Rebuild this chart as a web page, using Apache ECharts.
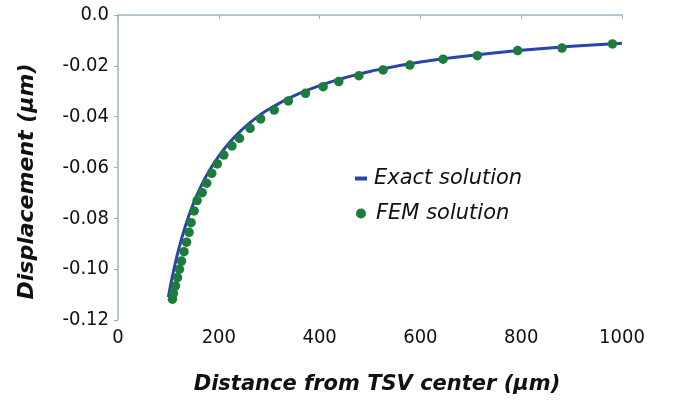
<!DOCTYPE html>
<html>
<head>
<meta charset="utf-8">
<script src="https://cdn.jsdelivr.net/npm/echarts@6/dist/echarts.min.js"></script>
<style>
html,body{margin:0;padding:0;background:#fff;}
#chart{width:673px;height:405px;}
</style>
</head>
<body>
<div id="chart"></div>
<script>
// Exact solution
const exactX = [100,105,110,115,120,130,140,150,160,170,180,200,220,240,260,280,300,350,400,450,500,600,700,800,900,1000];
const exactY = [-0.1110,-0.1057,-0.1009,-0.0965,-0.0925,-0.0854,-0.0793,-0.0740,-0.0694,-0.0653,-0.0617,-0.0555,-0.0505,-0.0463,-0.0427,-0.0396,-0.0370,-0.0317,-0.0278,-0.0247,-0.0222,-0.0185,-0.0159,-0.0139,-0.0123,-0.0111];
// FEM solution
const femX = [108,110,114,118,122,126,131,136,141,145,151,157,167,176,186,197,210,226,241,262,283,310,338,372,407,438,478,526,579,645,713,793,881,981];
const femY = [-0.1118,-0.1095,-0.1066,-0.1033,-0.1000,-0.0968,-0.0931,-0.0894,-0.0855,-0.0817,-0.0771,-0.0730,-0.0699,-0.0662,-0.0623,-0.0586,-0.0551,-0.0515,-0.0485,-0.0446,-0.0409,-0.0374,-0.0338,-0.0308,-0.0282,-0.0262,-0.0239,-0.0216,-0.0197,-0.0174,-0.0160,-0.0140,-0.0130,-0.0114];
const xTicks = [0,200,400,600,800,1000];
const yTicks = [-0.12,-0.10,-0.08,-0.06,-0.04,-0.02,0.0];

const font = 'DejaVu Sans';
const tickFont = '"DejaVu Sans Condensed", "DejaVu Sans"';
const axisColor = '#9fb2c4';
const chart = echarts.init(document.getElementById('chart'), null, {renderer:'canvas'});
chart.setOption({
  animation:false,
  backgroundColor:'#fff',
  grid:{left:118,right:51,top:15,bottom:85,containLabel:false},
  xAxis:{
    type:'value',min:xTicks[0],max:xTicks[xTicks.length-1],interval:200,
    name:'Distance from TSV center (μm)',nameLocation:'middle',nameGap:54,
    nameTextStyle:{fontFamily:font,fontSize:21,fontWeight:'bold',fontStyle:'italic',color:'#111',padding:[0,0,0,14]},
    axisLine:{lineStyle:{color:axisColor,width:1.5}},
    axisTick:{show:true,length:4,lineStyle:{color:axisColor}},
    axisLabel:{fontFamily:tickFont,fontSize:20,color:'#111',margin:8,formatter:v=>String(v)},
    splitLine:{show:false}
  },
  yAxis:{
    type:'value',min:yTicks[0],max:yTicks[yTicks.length-1],interval:0.02,
    name:'Displacement (μm)',nameLocation:'middle',nameGap:80,
    nameTextStyle:{fontFamily:font,fontSize:22,fontWeight:'bold',fontStyle:'italic',color:'#111',padding:[0,28,0,0]},
    axisLine:{show:true,lineStyle:{color:axisColor,width:1.5}},
    axisTick:{show:true,length:4,lineStyle:{color:axisColor}},
    axisLabel:{fontFamily:tickFont,fontSize:20,color:'#111',margin:9,
      formatter:v=>Math.abs(v)<1e-9?'0.0':v.toFixed(2)},
    splitLine:{show:false}
  },
  legend:[
    {data:['Exact solution'],left:350,top:163,itemWidth:12,itemHeight:4,itemGap:0,
     textStyle:{fontFamily:font,fontSize:21,fontStyle:'italic',color:'#111',padding:[0,0,0,2]},icon:'rect'},
    {data:['FEM solution'],left:351,top:198,itemWidth:10,itemHeight:10,
     textStyle:{fontFamily:font,fontSize:21,fontStyle:'italic',color:'#111',padding:[0,0,0,5]},icon:'circle'}
  ],
  series:[
    {name:'Exact solution',type:'line',smooth:true,showSymbol:false,symbol:'none',
     data:exactX.map((x,i)=>[x,exactY[i]]),lineStyle:{color:'#2a43ad',width:3},itemStyle:{color:'#2a43ad'},z:2},
    {name:'FEM solution',type:'scatter',symbolSize:9.5,
     data:femX.map((x,i)=>[x,femY[i]]),itemStyle:{color:'#1b7c3b',opacity:1},z:3}
  ]
});
</script>
</body>
</html>
